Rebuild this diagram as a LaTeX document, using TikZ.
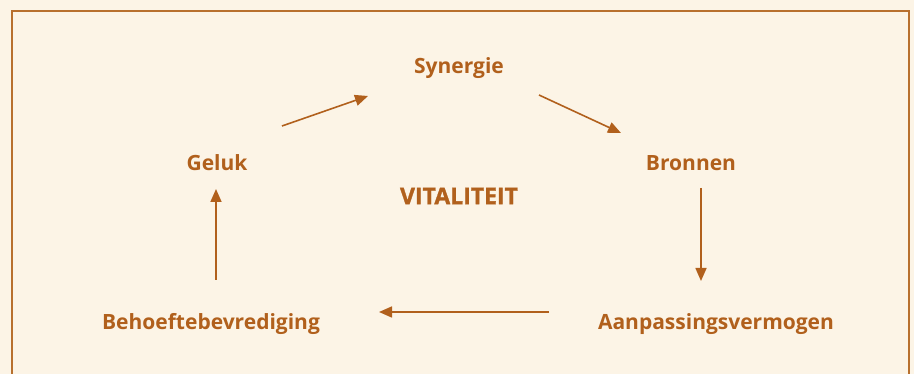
\documentclass[tikz,border=0pt]{standalone}
\usepackage{fontspec}
\setmainfont{Open Sans}
\newfontfamily\heavyfont{Open Sans}[BoldFeatures={FakeBold=1.2}]
\usepackage{tikz}
\usetikzlibrary{arrows.meta, positioning, calc}
\definecolor{creamcolor}{HTML}{FCF4E6}
\definecolor{siennacolor}{HTML}{B1601C}
\definecolor{framecolor}{HTML}{B8702E}

\begin{document}
\begin{tikzpicture}[x=1pt, y=-1pt,
    label/.style={font=\bfseries\fontsize{21}{25}\selectfont, color=siennacolor, inner sep=0pt},
    flow/.style={-{Triangle[length=13pt, width=11pt]}, siennacolor, line width=1.6pt}]
  \useasboundingbox[fill=creamcolor] (0,0) rectangle (914,374);
  \draw[framecolor, line width=2pt] (11.5,380) -- (11.5,11.5) -- (908.5,11.5) -- (908.5,380);
  % the five words round the cycle
  \node[label] (synergie) at (459,68)  {Synergie};
  \node[label] (geluk)    at (217,163) {Geluk};
  \node[label] (bronnen)  at (691,163) {Bronnen};
  \node[label] (behoefte) at (211,324) {Behoeftebevrediging};
  \node[label] (aanpas)   at (716,324) {Aanpassingsvermogen};
  \node[label, font=\heavyfont\bfseries\fontsize{23}{27}\selectfont] (vitaliteit) at (459,196) {VITALITEIT};
  % arrows
  \draw[flow] ($(geluk)+(65,-37)$) -- ($(synergie)+(-91,28)$);
  \draw[flow] ($(synergie)+(80,27)$) -- ($(bronnen)+(-70,-30)$);
  \draw[flow] ($(bronnen)+(10,25)$) -- ($(aanpas)+(-15,-43)$);
  \draw[flow] ($(aanpas)+(-167,-12)$) -- ($(behoefte)+(168,-12)$);
  \draw[flow] ($(behoefte)+(5,-44)$) -- ($(geluk)+(-1,26)$);
\end{tikzpicture}
\end{document}
